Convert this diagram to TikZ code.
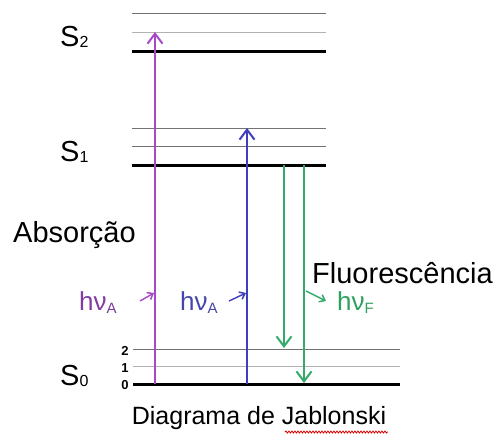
\documentclass[tikz,border=0pt]{standalone}
\usepackage{fontspec}
\setmainfont{Liberation Sans}
\usetikzlibrary{arrows.meta,decorations.pathmorphing}
\definecolor{purp}{RGB}{168,72,200}
\definecolor{purptext}{RGB}{128,60,160}
\definecolor{blu}{RGB}{62,62,190}
\definecolor{blutext}{RGB}{70,70,170}
\definecolor{grn}{RGB}{50,170,105}
\definecolor{grntext}{RGB}{45,160,95}
\tikzset{
  thinlvl/.style={line width=1pt, black!55},
  faintlvl/.style={line width=1pt, black!30},
  groundlvl/.style={line width=3pt, black},
  trans/.style={line width=1.8pt, -{Straight Barb[length=10pt,width=15pt,line width=2pt]}},
  small/.style={line width=1.4pt, -{Straight Barb[length=5pt,width=8pt,line width=1.5pt]}},
  lbl/.style={inner sep=0pt, font=\fontsize{29}{29}\selectfont},
  hv/.style={inner sep=0pt, font=\fontsize{26}{26}\selectfont},
  num/.style={inner sep=0pt, font=\fontsize{13}{13}\selectfont\bfseries}
}
\newcommand{\subs}[1]{\raisebox{-1pt}{\fontsize{16}{16}\selectfont #1}}
\newcommand{\hsub}[1]{\raisebox{-3pt}{\fontsize{15}{15}\selectfont #1}}
\begin{document}
\begin{tikzpicture}[x=1pt,y=-1pt]
\useasboundingbox (0,0) rectangle (502,445);
% S2 levels
\coordinate (s2a) at (132,13.5); \coordinate (s2b) at (326,13.5);
\coordinate (s2c) at (132,32);   \coordinate (s2d) at (326,32);
\coordinate (s2e) at (132,51.5); \coordinate (s2f) at (326,51.5);
\draw[thinlvl] (s2a) -- (s2b);
\draw[faintlvl] (s2c) -- (s2d);
\draw[groundlvl] (s2e) -- (s2f);
% S1 levels
\coordinate (s1a) at (132,128); \coordinate (s1b) at (326,128);
\coordinate (s1c) at (132,146); \coordinate (s1d) at (326,146);
\coordinate (s1e) at (132,165); \coordinate (s1f) at (326,165);
\draw[thinlvl] (s1a) -- (s1b);
\draw[thinlvl] (s1c) -- (s1d);
\draw[groundlvl] (s1e) -- (s1f);
% S0 levels
\coordinate (s0a) at (133,349); \coordinate (s0b) at (400,349);
\coordinate (s0c) at (133,366); \coordinate (s0d) at (400,366);
\coordinate (s0e) at (133,384); \coordinate (s0f) at (400,384);
\draw[thinlvl] (s0a) -- (s0b);
\draw[faintlvl] (s0c) -- (s0d);
\draw[groundlvl] (s0e) -- (s0f);
% state labels
\node[lbl, anchor=base west] (S2) at (60,46) {S\subs{2}};
\node[lbl, anchor=base west] (S1) at (60,161) {S\subs{1}};
\node[lbl, anchor=base west] (S0) at (60,385) {S\subs{0}};
\node[num] (n2) at (125,351) {2};
\node[num] (n1) at (125,368) {1};
\node[num] (n0) at (125,385) {0};
% transitions
\coordinate (pa) at (155,384); \coordinate (pb) at (155,32);
\coordinate (ba) at (247,384); \coordinate (bb) at (247,128);
\coordinate (ga) at (284,165); \coordinate (gb) at (284,348);
\coordinate (gc) at (304,165); \coordinate (gd) at (304,383);
\draw[trans, purp] (pa) -- (pb);
\draw[trans, blu] (ba) -- (bb);
\draw[trans, grn] (ga) -- (gb);
\draw[trans, grn] (gc) -- (gd);
% texts
\node[lbl, anchor=base west] (abs) at (13,242) {Absorção};
\node[lbl, anchor=base west] (flu) at (312,283) {Fluorescência};
\node[hv, anchor=base west, purptext] (hva1) at (79,310) {hν\hsub{A}};
\node[hv, anchor=base west, blutext] (hva2) at (180,310) {hν\hsub{A}};
\node[hv, anchor=base west, grntext] (hvf) at (337,310) {hν\hsub{F}};
% photon arrows
\coordinate (p1) at (140,301); \coordinate (p2) at (154,293);
\coordinate (b1) at (229,301); \coordinate (b2) at (246,293);
\coordinate (g1) at (306,291); \coordinate (g2) at (326,301);
\draw[small, purp] (p1) -- (p2);
\draw[small, blu] (b1) -- (b2);
\draw[small, grn] (g1) -- (g2);
% caption
\node[inner sep=0pt, font=\fontsize{25}{25}\selectfont, anchor=base] (cap) at (259,424) {Diagrama de Jablonski};
\coordinate (w1) at (285,432); \coordinate (w2) at (388,432);
\draw[red!85!black, line width=0.8pt, decorate, decoration={snake, amplitude=1pt, segment length=3pt}] (w1) -- (w2);
\end{tikzpicture}
\end{document}
